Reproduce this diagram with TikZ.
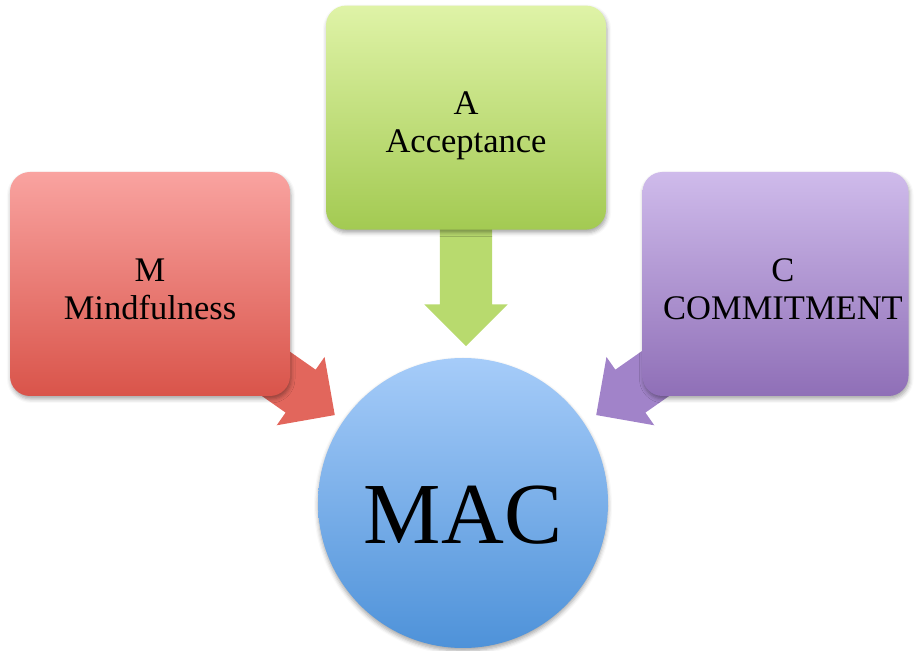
\documentclass[tikz,border=0pt]{standalone}
\usepackage{fontspec}
\setmainfont{Liberation Serif}
\usepackage{tikz}
\usetikzlibrary{positioning,backgrounds,shapes.arrows,shadows.blur}
\definecolor{redtop}{RGB}{249,163,160}
\definecolor{redbot}{RGB}{217,84,74}
\definecolor{greentop}{RGB}{223,243,167}
\definecolor{greenbot}{RGB}{163,202,82}
\definecolor{purptop}{RGB}{207,187,235}
\definecolor{purpbot}{RGB}{143,111,183}
\definecolor{bluetop}{RGB}{166,204,249}
\definecolor{bluebot}{RGB}{78,146,217}
\definecolor{redarrow}{RGB}{226,102,92}
\definecolor{greenarrow}{RGB}{184,218,110}
\definecolor{purparrow}{RGB}{161,131,201}

\begin{document}
\begin{tikzpicture}[x=1pt, y=1pt,
		box/.style={draw=none, rectangle, rounded corners=20pt, minimum height=224pt, inner sep=0pt, blur shadow={shadow xshift=1pt, shadow yshift=-3pt, shadow blur radius=4pt, shadow opacity=35}},
		boxtext/.style={align=center, font=\fontsize{34.5}{38}\selectfont},
		redbox/.style={box, minimum width=280pt, top color=redtop, bottom color=redbot},
		greenbox/.style={box, minimum width=280pt, top color=greentop, bottom color=greenbot},
		purpbox/.style={box, minimum width=266pt, top color=purptop, bottom color=purpbot},
		hub/.style={draw=none, circle, minimum size=290pt, inner sep=0pt, top color=bluetop, bottom color=bluebot, blur shadow={shadow xshift=0pt, shadow yshift=-3pt, shadow blur radius=4pt, shadow opacity=35}},
		hubtext/.style={font=\fontsize{87}{92}\selectfont},
		fatarrow/.style={draw=none, single arrow, single arrow tip angle=90, single arrow head extend=15.5pt, inner xsep=0pt, inner ysep=26pt, minimum height=#1}
		]
		\useasboundingbox (0,0) rectangle (914,651);
		
		\node[hub, label={[hubtext, yshift=-12pt]center:MAC}](mac) at (463,148) {};
		\node[greenbox, label={[boxtext, yshift=-8pt]center:A\\Acceptance}](acc) [above=128pt of mac, xshift=3pt] {};
		\node[redbox, label={[boxtext, yshift=-5pt]center:M\\Mindfulness}](mind) at (150,367) {};
		\node[purpbox, label={[boxtext, xshift=7.5pt, yshift=-5pt]center:C\\COMMITMENT}](comm) at (775.5,367) {};
		
		\begin{scope}[on background layer]
		\node[fatarrow=125pt, fill=greenarrow, rotate=-90](accarrow) at (466,380.5) {};
		\node[fatarrow=110pt, fill=redarrow, rotate=-35](mindarrow) at (279,275) {};
		\node[fatarrow=110pt, fill=purparrow, rotate=215](commarrow) at (652,275) {};
		\end{scope}
\end{tikzpicture}
\end{document}
